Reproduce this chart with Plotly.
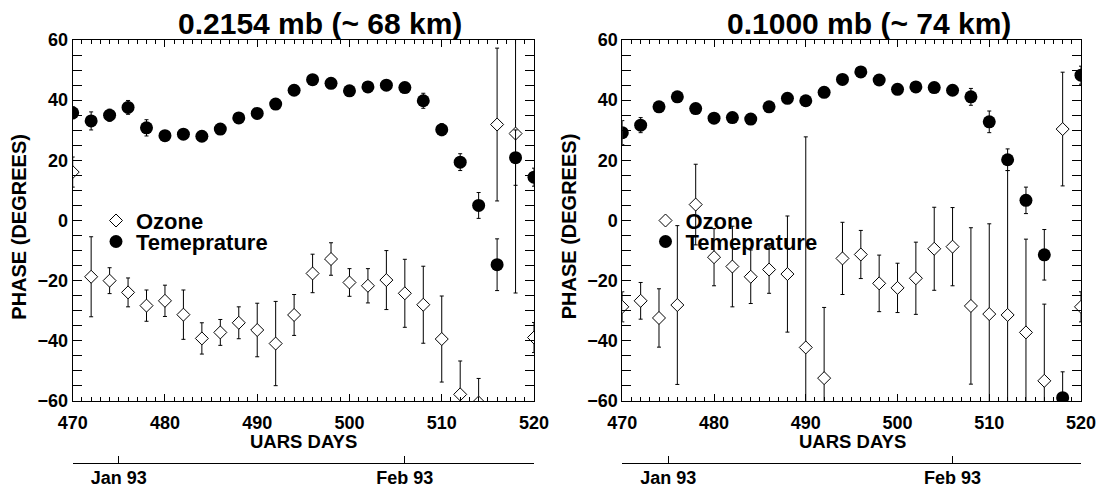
import plotly.graph_objects as go

# ---------------- data ----------------
days = [470, 472, 474, 476, 478, 480, 482, 484, 486, 488, 490, 492, 494,
        496, 498, 500, 502, 504, 506, 508, 510, 512, 514, 516, 518, 520]

# Left panel: 0.2154 mb (~ 68 km)
temp_left = [35.8, 33.1, 35.0, 37.6, 30.8, 28.2, 28.7, 28.0, 30.4, 34.1, 35.6, 38.7, 43.3,
             46.8, 45.6, 43.1, 44.4, 45.0, 44.2, 39.8, 30.2, 19.4, 5.0, -14.7, 20.9, 14.4]
temp_left_err = [2.0, 3.0, 2.0, 2.3, 2.7, 1.0, 1.0, 1.0, 1.0, 1.0, 1.0, 1.0, 1.0,
                 1.0, 1.0, 1.0, 1.0, 1.0, 1.0, 2.5, 2.0, 2.8, 4.3, 8.6, 9.2, 3.0]
ozone_left = [16.1, -18.7, -20.0, -23.9, -28.3, -26.7, -31.3, -39.2, -37.2, -34.0, -36.4, -40.9, -31.4,
              -17.6, -12.8, -20.6, -21.7, -19.8, -24.2, -28.0, -39.4, -57.8, -60.5, 31.9, 28.9, -38.9]
ozone_left_err = [5.0, 13.3, 4.3, 4.8, 5.2, 5.2, 8.2, 5.2, 4.3, 5.3, 8.9, 14.0, 6.8,
                  6.4, 5.4, 4.6, 5.7, 9.8, 11.3, 12.8, 14.3, 11.1, 8.0, 25.4, 53.0, 5.0]

# Right panel: 0.1000 mb (~ 74 km)
temp_right = [29.2, 31.7, 37.8, 41.1, 37.2, 34.0, 34.2, 33.7, 37.8, 40.6, 39.8, 42.6, 46.9,
              49.4, 46.7, 43.6, 44.4, 44.2, 43.3, 41.1, 32.8, 20.2, 6.7, -11.4, -58.9, 48.3]
temp_right_err = [4.0, 2.5, 1.0, 1.0, 1.0, 1.0, 1.0, 1.0, 1.0, 1.0, 1.0, 1.0, 1.0,
                  1.0, 1.0, 1.0, 1.0, 1.0, 1.0, 2.8, 3.6, 3.6, 4.4, 8.4, 8.6, 3.0]
ozone_right = [-28.7, -26.7, -32.4, -28.1, 5.3, -12.2, -15.3, -18.7, -16.3, -17.8, -42.2, -52.4, -12.6,
               -11.3, -20.9, -22.4, -19.2, -9.4, -8.7, -28.4, -31.1, -31.4, -37.2, -53.3, 30.4, -28.7]
ozone_right_err = [5.0, 6.1, 9.7, 26.4, 13.4, 9.5, 13.4, 8.9, 7.9, 19.3, 70.0, 23.5, 12.0,
                   8.0, 9.4, 8.2, 12.0, 13.8, 13.0, 26.0, 30.0, 48.0, 31.0, 25.5, 18.9, 5.0]

titles = ["0.2154 mb (~ 68 km)", "0.1000 mb (~ 74 km)"]
month_ticks = [475, 506]
month_labels = ["Jan 93", "Feb 93"]
series_names = ["Ozone", "Temeprature"]

# ---------------- geometry helpers ----------------
W, H = 1101, 488
MT, MB = 40, 0
PH = H - MT - MB


def fx(px):
    return px / W


def fy(py):
    return (H - MB - py) / PH


FONT = "Liberation Sans, Arial, sans-serif"

fig = go.Figure()

panels = [
    ("x", "y", ozone_left, ozone_left_err, temp_left, temp_left_err, "legend", "legend2"),
    ("x2", "y2", ozone_right, ozone_right_err, temp_right, temp_right_err, "legend3", "legend4"),
]

for xa, ya, oz, oze, tp, tpe, lg1, lg2 in panels:
    fig.add_trace(go.Scatter(
        x=days, y=oz, mode="markers", name=series_names[0], xaxis=xa, yaxis=ya, legend=lg1,
        error_y=dict(type="data", array=oze, color="black", thickness=1, width=2),
        marker=dict(symbol="diamond", size=10, color="white", line=dict(color="black", width=1)),
        cliponaxis=True,
    ))
    fig.add_trace(go.Scatter(
        x=days, y=tp, mode="markers", name=series_names[1], xaxis=xa, yaxis=ya, legend=lg2,
        error_y=dict(type="data", array=tpe, color="black", thickness=1, width=2),
        marker=dict(symbol="circle", size=13, color="black", line=dict(color="black", width=0)),
        cliponaxis=True,
    ))

# dummy traces so the month axes get drawn
fig.add_trace(go.Scatter(x=[None], y=[None], xaxis="x3", yaxis="y", showlegend=False, hoverinfo="skip"))
fig.add_trace(go.Scatter(x=[None], y=[None], xaxis="x4", yaxis="y2", showlegend=False, hoverinfo="skip"))

tickfont = dict(family=FONT, size=18, color="black", weight="bold")

xcommon = dict(
    range=[470, 520], dtick=10, tick0=470, showgrid=False, zeroline=False,
    showline=True, linecolor="black", linewidth=1, mirror="allticks",
    ticks="inside", ticklen=7, tickwidth=1, tickcolor="black",
    minor=dict(dtick=1, ticks="inside", ticklen=4, tickcolor="black", showgrid=False),
    tickfont=tickfont, ticklabelstandoff=5, automargin=False, fixedrange=True,
)
ycommon = dict(
    range=[-60, 60], dtick=20, tick0=-60, showgrid=False, zeroline=False,
    showline=True, linecolor="black", linewidth=1, mirror="allticks",
    ticks="inside", ticklen=9, tickwidth=1, tickcolor="black",
    minor=dict(dtick=5, ticks="inside", ticklen=5, tickcolor="black", showgrid=False),
    tickfont=tickfont, ticklabelstandoff=0, automargin=False, fixedrange=True,
)
ydom = [fy(401), 1.0]
monthaxis = dict(
    range=[470, 520], anchor="free", position=fy(462.7), showgrid=False, zeroline=False,
    showline=True, linecolor="black", linewidth=1,
    ticks="inside", ticklen=7, tickwidth=1, tickcolor="black",
    tickvals=month_ticks, ticktext=month_labels, tickfont=tickfont,
    ticklabelstandoff=-1, automargin=False, fixedrange=True,
)

fig.update_layout(
    width=W, height=H, template="none",
    margin=dict(l=0, r=0, t=MT, b=MB, pad=0),
    paper_bgcolor="white", plot_bgcolor="white",
    font=dict(family=FONT, color="black"),
    xaxis=dict(domain=[fx(72.7), fx(534)], anchor="y", **xcommon),
    yaxis=dict(domain=ydom, anchor="x", **ycommon),
    xaxis2=dict(domain=[fx(622.3), fx(1081)], anchor="y2", **xcommon),
    yaxis2=dict(domain=ydom, anchor="x2", **ycommon),
    xaxis3=dict(overlaying="x", **monthaxis),
    xaxis4=dict(overlaying="x2", **monthaxis),
    showlegend=True,
)

legfont = dict(family=FONT, size=22, color="black", weight="bold")
leg_rows = {"legend": (96, 220.7), "legend2": (96, 241.7),
            "legend3": (645.5, 220.7), "legend4": (645.5, 241.7)}
for name, (lx, ly) in leg_rows.items():
    fig.update_layout({name: dict(x=fx(lx), y=fy(ly), xanchor="left", yanchor="middle",
                                  bgcolor="rgba(0,0,0,0)", borderwidth=0, font=legfont,
                                  itemclick=False, itemdoubleclick=False)})

annots = []
for t, cx in zip(titles, [320, 869]):
    annots.append(dict(text=t, x=fx(cx), y=fy(24), xref="paper", yref="paper",
                       xanchor="center", yanchor="middle", showarrow=False,
                       font=dict(family=FONT, size=30, color="black", weight="bold")))
for cx in [19, 568.6]:
    annots.append(dict(text="PHASE (DEGREES)", x=fx(cx), y=fy(226.7), xref="paper", yref="paper",
                       xanchor="center", yanchor="middle", showarrow=False, textangle=-90,
                       font=dict(family=FONT, size=20, color="black", weight="bold")))
for cx in [303.3, 852]:
    annots.append(dict(text="UARS DAYS", x=fx(cx), y=fy(441), xref="paper", yref="paper",
                       xanchor="center", yanchor="middle", showarrow=False,
                       font=dict(family=FONT, size=18.5, color="black", weight="bold")))
fig.update_layout(annotations=annots)

fig.write_html("out.html", config={"displayModeBar": False},
               post_script="document.body.style.margin='0';document.body.style.overflow='hidden';")
